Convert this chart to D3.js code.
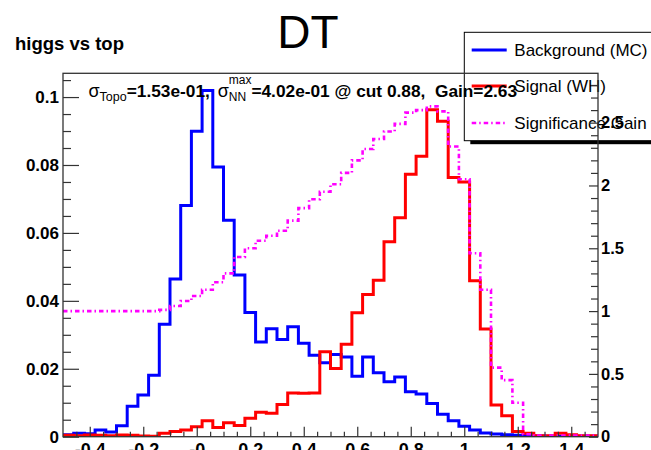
<!DOCTYPE html>
<html>
<head>
<meta charset="utf-8">
<script src="https://cdn.jsdelivr.net/npm/d3@7"></script>
<style>
  html, body { margin: 0; padding: 0; background: #fff; }
  svg { display: block; font-family: "Liberation Sans", Arial, Helvetica, sans-serif; }
  .note text { white-space: pre; }
</style>
</head>
<body>
<svg id="chart" width="651" height="450"></svg>
<script>
// ---------------- data ----------------
const title = "DT";
const subtitle = "higgs vs top";

// histogram binning: 50 bins on [-0.5, 1.5]
const xMin = -0.5, xMax = 1.5, nBins = 50;

// normalised NN output, background (MC)
const background = [
  0.0006, 0.0010, 0.0009, 0.0020, 0.0014, 0.0032, 0.0090, 0.0123, 0.0181, 0.0331,
  0.0464, 0.0681, 0.0899, 0.1019, 0.0794, 0.0637, 0.0476, 0.0366, 0.0279, 0.0318,
  0.0286, 0.0324, 0.0275, 0.0240, 0.0218, 0.0242, 0.0235, 0.0178, 0.0235, 0.0188,
  0.0162, 0.0176, 0.0132, 0.0126, 0.0098, 0.0066, 0.0047, 0.0031, 0.0020, 0.0011,
  0.0008, 0.0006, 0.0004, 0.0003, 0.0002, 0.0001, 0.0001, 0.0001, 0.0001, 0.0001
];

// normalised NN output, signal (WH)
const signal = [
  0.0004, 0.0003, 0.0005, 0.0004, 0.0003, 0.0005, 0.0004, 0.0002, 0.0001, 0.0010,
  0.0015, 0.0020, 0.0029, 0.0047, 0.0027, 0.0041, 0.0033, 0.0054, 0.0072, 0.0069,
  0.0095, 0.0129, 0.0128, 0.0129, 0.0250, 0.0201, 0.0272, 0.0365, 0.0419, 0.0461,
  0.0574, 0.0645, 0.0773, 0.0826, 0.0963, 0.0929, 0.0763, 0.0750, 0.0459, 0.0317,
  0.0093, 0.0062, 0.0015, 0.0010, 0.0003, 0.0003, 0.0010, 0.0006, 0.0003, 0.0003
];

// significance gain as a function of the cut (right axis)
const gain = [
  1.00, 1.00, 1.00, 1.00, 1.00, 1.00, 1.00, 1.00, 1.00, 1.01,
  1.04, 1.08, 1.12, 1.17, 1.23, 1.30, 1.43, 1.50, 1.56, 1.60,
  1.64, 1.72, 1.82, 1.89, 1.95, 2.01, 2.10, 2.20, 2.29, 2.37,
  2.43, 2.49, 2.58, 2.60, 2.63, 2.59, 2.31, 2.05, 1.46, 1.17,
  0.55, 0.45, 0.27, 0.02, 0.01, 0.01, 0.01, 0.01, 0.01, 0.01
];

const xTicks = [-0.4, -0.2, 0, 0.2, 0.4, 0.6, 0.8, 1, 1.2, 1.4];
const xTickLabels = ["-0.4", "-0.2", "-0", "0.2", "0.4", "0.6", "0.8", "1", "1.2", "1.4"];
const leftTicks = [0, 0.02, 0.04, 0.06, 0.08, 0.1];
const leftTickLabels = ["0", "0.02", "0.04", "0.06", "0.08", "0.1"];
const rightTicks = [0, 0.5, 1, 1.5, 2, 2.5];
const rightTickLabels = ["0", "0.5", "1", "1.5", "2", "2.5"];

const legendLabels = ["Background (MC)", "Signal (WH)", "Significance Gain"];
const sigmaTopo = "1.53e-01";
const sigmaNN = "4.02e-01";
const bestCut = "0.88";
const gainMax = 2.63;

// ---------------- layout ----------------
const svg = d3.select("#chart");
const frame = { left: 63, right: 598, top: 73.3, bottom: 436.7 };
const colors = { bkg: "#0000ff", sig: "#ff0000", gain: "#ff00ff" };
const gainDash = "4.5 3 1.5 3";

const binEdges = d3.range(nBins + 1).map(i => xMin + (xMax - xMin) * i / nBins);

const x = d3.scaleLinear().domain([xMin, xMax]).range([frame.left, frame.right]);
const yL = d3.scaleLinear()
  .domain([0, 1.05 * d3.max(background.concat(signal))])
  .range([frame.bottom, frame.top]);
const yR = d3.scaleLinear().domain([0, 1.1 * gainMax]).range([frame.bottom, frame.top]);

svg.append("defs").append("clipPath").attr("id", "plotClip")
  .append("rect")
  .attr("x", frame.left).attr("y", frame.top - 2)
  .attr("width", frame.right - frame.left).attr("height", frame.bottom - frame.top + 2);

// step outline of a binned series
function stepPoints(values) {
  const pts = values.map((v, i) => [binEdges[i], v]);
  pts.push([binEdges[nBins], values[nBins - 1]]);
  return pts;
}

const plot = svg.append("g").attr("clip-path", "url(#plotClip)");

const lineL = d3.line().x(d => x(d[0])).y(d => yL(d[1])).curve(d3.curveStepAfter);
const lineR = d3.line().x(d => x(d[0])).y(d => yR(d[1])).curve(d3.curveStepAfter);

plot.append("path").datum(stepPoints(background))
  .attr("d", lineL).attr("fill", "none")
  .attr("stroke", colors.bkg).attr("stroke-width", 3).attr("stroke-linejoin", "miter");

plot.append("path").datum(stepPoints(signal))
  .attr("d", lineL).attr("fill", "none")
  .attr("stroke", colors.sig).attr("stroke-width", 3).attr("stroke-linejoin", "miter");

plot.append("path").datum(stepPoints(gain))
  .attr("d", lineR).attr("fill", "none")
  .attr("stroke", colors.gain).attr("stroke-width", 2.6)
  .attr("stroke-dasharray", gainDash);

// ---------------- titles ----------------
svg.append("text")
  .attr("x", 308).attr("y", 48)
  .attr("text-anchor", "middle")
  .attr("font-size", 46)
  .text(title);

svg.append("text")
  .attr("x", 15).attr("y", 50)
  .attr("font-size", 18.5).attr("font-weight", "bold")
  .text(subtitle);

// ---------------- legend ----------------
const leg = { x: 464.3, y: 32.3, w: 260, h: 108.4 };
svg.append("rect")
  .attr("x", leg.x + 6).attr("y", leg.y + 3.5)
  .attr("width", leg.w).attr("height", leg.h)
  .attr("fill", "#000");
svg.append("rect")
  .attr("x", leg.x).attr("y", leg.y)
  .attr("width", leg.w).attr("height", leg.h)
  .attr("fill", "#fff").attr("stroke", "#000").attr("stroke-width", 1);

const legRows = [
  { label: legendLabels[0], color: colors.bkg, dash: null, y: 50 },
  { label: legendLabels[1], color: colors.sig, dash: null, y: 86 },
  { label: legendLabels[2], color: colors.gain, dash: gainDash, y: 123 }
];
legRows.forEach(r => {
  svg.append("line")
    .attr("x1", 471.7).attr("x2", 506.7)
    .attr("y1", r.y).attr("y2", r.y)
    .attr("stroke", r.color)
    .attr("stroke-width", r.dash ? 2.6 : 3)
    .attr("stroke-dasharray", r.dash);
  svg.append("text")
    .attr("x", 514.3).attr("y", r.y + 6)
    .attr("font-size", 17)
    .attr("fill", "#000")
    .text(r.label);
});

// ---------------- annotation ----------------
const note = svg.append("g").attr("class", "note");
let cursor = 88.5;
const baseY = 96.5;
function piece(txt, opts) {
  const t = note.append("text")
    .attr("x", cursor)
    .attr("y", baseY + (opts.dy || 0))
    .attr("font-size", opts.size)
    .attr("font-weight", opts.bold ? "bold" : "normal")
    .text(txt);
  const w = t.node().getComputedTextLength();
  if (!opts.stay) cursor += w;
  return w;
}
piece("\u03c3", { size: 18 });
piece("Topo", { size: 12.5, dy: 4.5 });
piece("=" + sigmaTopo + ", ", { size: 17.3, bold: true });
cursor += 3;
piece("\u03c3", { size: 18 });
const wNN = piece("NN", { size: 12, dy: 4.5, stay: true });
const wMax = piece("max", { size: 12, dy: -12.5, stay: true });
cursor += Math.max(wNN, wMax);
piece("=" + sigmaNN + " @ cut " + bestCut + ",  Gain=" + gainMax.toFixed(2), { size: 17.3, bold: true });

// ---------------- axes & frame ----------------
const axes = svg.append("g");
const labelFont = "Liberation Sans, Arial, sans-serif";

// left axis
const leftMinor = d3.range(0, 0.1051, 0.005).filter(v => !leftTicks.some(t => Math.abs(t - v) < 1e-9));
axes.append("g").attr("transform", `translate(${frame.left},0)`)
  .call(d3.axisLeft(yL).tickValues(leftMinor).tickSize(-8).tickFormat(""))
  .call(g => g.select(".domain").remove());
axes.append("g").attr("transform", `translate(${frame.left},0)`)
  .call(d3.axisLeft(yL).tickValues(leftTicks).tickSize(-16).tickPadding(4)
        .tickFormat((d, i) => leftTickLabels[i]))
  .call(g => g.select(".domain").remove())
  .call(g => g.selectAll("text").attr("font-size", 17).attr("font-weight", "bold")
        .attr("font-family", labelFont));

// bottom axis
const xMinor = d3.range(-0.45, 1.5, 0.05).filter(v => !xTicks.some(t => Math.abs(t - v) < 1e-9));
axes.append("g").attr("transform", `translate(0,${frame.bottom})`)
  .call(d3.axisBottom(x).tickValues(xMinor).tickSize(-5).tickFormat(""))
  .call(g => g.select(".domain").remove());
axes.append("g").attr("transform", `translate(0,${frame.bottom})`)
  .call(d3.axisBottom(x).tickValues(xTicks).tickSize(-10).tickPadding(7)
        .tickFormat((d, i) => xTickLabels[i]))
  .call(g => g.select(".domain").remove())
  .call(g => g.selectAll("text").attr("font-size", 18).attr("font-weight", "bold")
        .attr("font-family", labelFont));

// right axis (significance gain)
const rightMinor = d3.range(0, 2.85, 0.1).filter(v => !rightTicks.some(t => Math.abs(t - v) < 1e-9));
axes.append("g").attr("transform", `translate(${frame.right},0)`)
  .call(d3.axisRight(yR).tickValues(rightMinor).tickSize(-7).tickFormat(""))
  .call(g => g.select(".domain").remove());
axes.append("g").attr("transform", `translate(${frame.right},0)`)
  .call(d3.axisRight(yR).tickValues(rightTicks).tickSize(-9).tickPadding(3)
        .tickFormat((d, i) => rightTickLabels[i]))
  .call(g => g.select(".domain").remove())
  .call(g => g.selectAll("text").attr("font-size", 16.5).attr("font-weight", "bold")
        .attr("font-family", labelFont));

axes.selectAll(".tick line").attr("stroke", "#333").attr("stroke-width", 1.2);

// frame
svg.append("rect")
  .attr("x", frame.left).attr("y", frame.top)
  .attr("width", frame.right - frame.left).attr("height", frame.bottom - frame.top)
  .attr("fill", "none").attr("stroke", "#333").attr("stroke-width", 1.3);
</script>
</body>
</html>
